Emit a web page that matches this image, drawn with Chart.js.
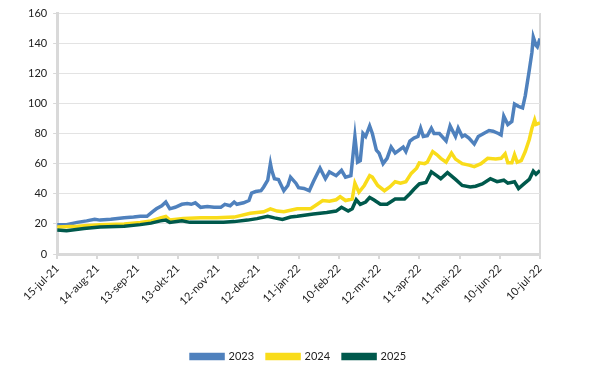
<!DOCTYPE html>
<html>
<head>
<meta charset="utf-8">
<script src="https://cdn.jsdelivr.net/npm/chart.js@4/dist/chart.umd.min.js"></script>
<style>
  html, body { margin: 0; padding: 0; background: #fff; }
  #wrap { width: 600px; height: 369px; }
</style>
</head>
<body>
<div id="wrap"><canvas id="prices"></canvas></div>
<script>
// days counted from 15-jul-21
const days2023 = [0, 7, 15, 22, 28, 32, 40, 50, 57, 62, 67, 71, 74, 78, 81, 84, 88, 93, 97, 100, 103, 107, 112, 117, 122, 125, 129, 132, 134, 139, 143, 145, 148, 152, 154, 157, 159, 160, 162, 165, 169, 172, 174, 178, 180, 184, 188, 191, 196, 200, 203, 208, 212, 215, 219, 222, 224, 226, 228, 230, 233, 235, 238, 240, 243, 246, 249, 252, 255, 258, 260, 263, 266, 269, 271, 273, 276, 279, 281, 285, 290, 293, 295, 297, 299, 302, 304, 307, 311, 314, 318, 322, 325, 329, 331, 333, 336, 339, 341, 344, 347, 349, 352, 354, 355, 357, 358, 360];
const vals2023 = [19.5, 19.5, 21, 22, 23, 22.5, 23, 24, 24.5, 25, 25, 28, 30, 32, 34.5, 30, 31, 33, 33.5, 33, 34, 31, 31.5, 31, 31, 33, 32, 34.5, 33, 34, 35.5, 40.5, 41.5, 42, 44.5, 49, 60, 55.5, 50, 49.5, 42, 45.5, 51, 47, 44, 43.5, 42, 48, 57, 50, 54.5, 52, 55.5, 51, 52, 78, 61, 62, 80, 78, 85, 80, 69, 67, 60, 63.5, 71, 67, 69, 71, 68, 75, 77, 78, 83.5, 78, 78.5, 83.5, 80, 80, 75, 85, 81.5, 78, 83.5, 78, 79, 77, 73, 78, 80, 82, 81.5, 80, 79, 91.5, 86, 88, 99.5, 98, 97, 105, 122, 134, 144, 138.5, 137.5, 143];

const days2024 = [0, 15, 32, 50, 62, 70, 77, 81, 84, 94, 107, 119, 132, 144, 154, 159, 164, 169, 174, 179, 189, 194, 198, 203, 208, 211, 215, 220, 222, 225, 229, 233, 235, 239, 244, 248, 252, 256, 260, 264, 268, 270, 274, 276, 280, 283, 286, 290, 294, 297, 302, 307, 311, 316, 321, 327, 331, 334, 336, 339, 341, 343, 346, 349, 352, 354, 356, 357, 360];
const vals2024 = [18, 18.5, 19.5, 20, 21, 22, 24, 25, 22.5, 23.5, 24, 24, 24.5, 27, 28, 30, 28.5, 28, 29, 30, 30, 33, 35.5, 35, 36, 38, 35.5, 36.5, 47, 41, 45.5, 52, 51, 45.5, 42, 44.5, 48, 47, 48, 53.5, 57, 60.5, 60, 61, 68, 66, 63.5, 61, 67, 63, 60, 59, 58, 60, 63.5, 63, 63.5, 66.5, 60.5, 60.5, 66, 61, 62, 68, 76, 83.5, 89, 86, 87];

const days2025 = [0, 7, 20, 32, 50, 62, 70, 77, 81, 84, 93, 99, 112, 124, 132, 142, 149, 157, 162, 168, 174, 179, 191, 201, 208, 212, 217, 220, 223, 226, 230, 233, 236, 241, 246, 252, 259, 263, 266, 270, 275, 279, 283, 286, 291, 297, 302, 308, 312, 317, 323, 328, 333, 336, 341, 344, 348, 352, 355, 357, 360];
const vals2025 = [16, 15.5, 17, 18, 18.5, 19.5, 20.5, 22, 22.5, 21, 22, 21, 21, 21, 21.5, 22.5, 23.5, 25, 24, 23, 24.5, 25, 26.5, 27.5, 28.5, 31, 28.5, 30, 36, 33, 34.5, 37.5, 36, 33, 33, 36.5, 36.5, 40, 43, 46.5, 47.5, 54.5, 52, 50, 54, 49.5, 45.5, 44.5, 45, 46.5, 50, 48, 49, 47, 48, 43.5, 46.5, 49.5, 55, 53, 55.5];

const seriesNames = ['2023', '2024', '2025'];
const yTicks = [0, 20, 40, 60, 80, 100, 120, 140, 160];
const monthNames = ['jan', 'feb', 'mrt', 'apr', 'mei', 'jun', 'jul', 'aug', 'sep', 'okt', 'nov', 'dec'];
const startDate = Date.UTC(2021, 6, 15);

function dayLabel(d) {
  const dt = new Date(startDate + d * 86400000);
  const yy = String(dt.getUTCFullYear()).slice(2);
  return dt.getUTCDate() + '-' + monthNames[dt.getUTCMonth()] + '-' + yy;
}

function pts(days, vals) {
  return days.map((d, i) => ({ x: d, y: vals[i] }));
}

const gridGray = '#d9d9d9';
const textFont = { family: 'Lato', size: 11 };

const dataPrices = {
  datasets: [
    {
      label: seriesNames[0],
      data: pts(days2023, vals2023),
      borderColor: '#4f81bd',
      backgroundColor: '#4f81bd',
      borderWidth: 3.5,
      pointRadius: 0,
      order: 3
    },
    {
      label: seriesNames[1],
      data: pts(days2024, vals2024),
      borderColor: '#f9dc1a',
      backgroundColor: '#f9dc1a',
      borderWidth: 3.5,
      pointRadius: 0,
      order: 2
    },
    {
      label: seriesNames[2],
      data: pts(days2025, vals2025),
      borderColor: '#00594c',
      backgroundColor: '#00594c',
      borderWidth: 3.5,
      pointRadius: 0,
      order: 1
    }
  ]
};

const configPrices = {
  type: 'line',
  data: dataPrices,
  options: {
    responsive: true,
    maintainAspectRatio: false,
    animation: false,
    layout: {
      padding: { left: 22, right: 60, top: 13, bottom: -3 }
    },
    plugins: {
      tooltip: { enabled: false },
      legend: {
        position: 'bottom',
        fullSize: false,
        labels: {
          sort: (a, b) => a.datasetIndex - b.datasetIndex,
          boxWidth: 32,
          boxHeight: 4,
          padding: 13,
          color: '#222',
          font: textFont
        }
      }
    },
    scales: {
      x: {
        type: 'linear',
        min: 0,
        max: 360,
        afterFit: axis => { axis.height = 84; },
        border: { color: gridGray, width: 3 },
        grid: {
          drawOnChartArea: true,
          color: ctx => ctx.index === 12 ? gridGray : 'transparent',
          lineWidth: 2,
          tickLength: 5,
          tickColor: gridGray
        },
        ticks: {
          stepSize: 30,
          autoSkip: false,
          maxRotation: 45,
          minRotation: 45,
          color: '#222',
          font: textFont,
          callback: v => dayLabel(v)
        }
      },
      y: {
        min: 0,
        max: 160,
        border: { color: gridGray, width: 3 },
        grid: {
          color: '#e3e3e3',
          lineWidth: 1,
          tickLength: 4,
          tickColor: gridGray
        },
        afterBuildTicks: axis => { axis.ticks = yTicks.map(v => ({ value: v })); },
        ticks: {
          color: '#222',
          padding: 6,
          font: textFont
        }
      }
    }
  }
};

const ChartPrices = new Chart(
  document.getElementById('prices'),
  configPrices
);
</script>
</body>
</html>
